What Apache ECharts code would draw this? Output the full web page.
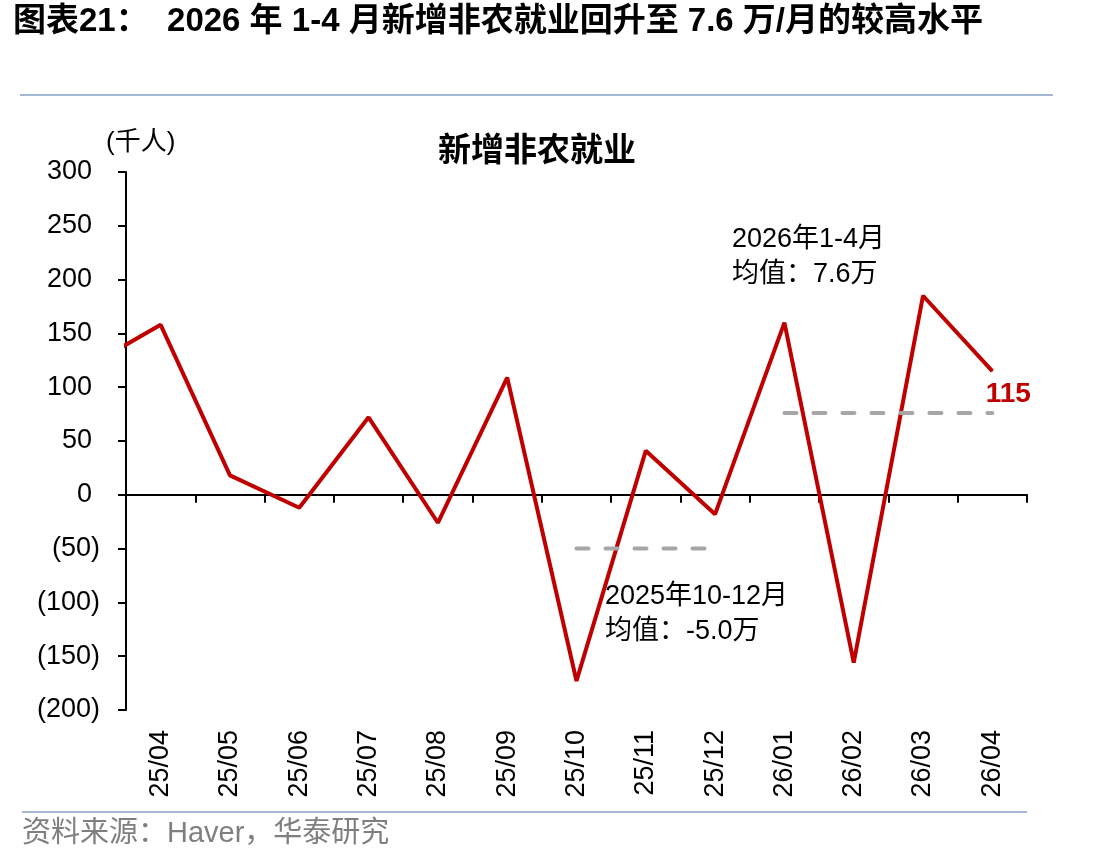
<!DOCTYPE html>
<html>
<head>
<meta charset="utf-8">
<script src="https://cdn.jsdelivr.net/npm/echarts@6/dist/echarts.min.js"></script>
<style>
    html, body { margin: 0; padding: 0; background: #fff; }
    #myChart { width: 1112px; height: 866px; }
</style>
</head>
<body>
<div id="myChart"></div>
<script>
    // 数据（千人）
    const months = ['25/04', '25/05', '25/06', '25/07', '25/08', '25/09', '25/10', '25/11', '25/12', '26/01', '26/02', '26/03', '26/04'];
    const prevMonthValue = 121;   // 25/03，只露出一截线段
    const payrolls = [158, 18, -12, 72, -26, 109, -173, 41, -18, 160, -156, 185, 115];
    const q4Months = ['25/10', '25/11', '25/12'];
    const q4Avg = -50;
    const ytdMonths = ['26/01', '26/02', '26/03', '26/04'];
    const ytdAvg = 76;
    const yTicks = [-200, 300, 50];  // min, max, interval

    const FONT = "'Liberation Sans', Arial, 'Noto Sans CJK SC', sans-serif";
    const RED = '#c00000';

    const lineData = [[-1, prevMonthValue]].concat(payrolls.map((v, i) => [i, v]));
    // 最后一个点显示数值
    lineData[lineData.length - 1] = {
        value: lineData[lineData.length - 1],
        symbol: 'circle', symbolSize: 1,
        label: {
            show: true, position: 'bottom', offset: [16, 4],
            color: RED, fontSize: 28, fontWeight: 'bold', fontFamily: FONT,
            formatter: p => p.value[1]
        }
    };
    const avgSeg = (list, v) => list.map(m => [months.indexOf(m), v]);

    const myChart = echarts.init(document.getElementById('myChart'));
    myChart.setOption({
        animation: false,
        grid: { left: 126, right: 85, top: 172, bottom: 156 },
        xAxis: [
            {
                type: 'category', data: months, boundaryGap: true,
                axisLine: { onZero: true, lineStyle: { color: '#000', width: 2 } },
                axisTick: { show: true, length: 8, lineStyle: { color: '#000', width: 2 } },
                axisLabel: { show: false }
            },
            {
                type: 'category', data: months, boundaryGap: true, position: 'bottom',
                axisLine: { show: false, onZero: false },
                axisTick: { show: false },
                axisLabel: { rotate: 90, margin: 20, fontSize: 27, color: '#000', fontFamily: FONT }
            },
            { type: 'value', min: -0.5, max: 12.5, show: false }
        ],
        yAxis: {
            type: 'value', min: yTicks[0], max: yTicks[1], interval: yTicks[2],
            axisLine: { show: true, onZero: false, lineStyle: { color: '#000', width: 2 } },
            axisTick: { show: true, length: 8, lineStyle: { color: '#000', width: 2 } },
            splitLine: { show: false },
            axisLabel: {
                margin: 26, fontSize: 27, color: '#000', fontFamily: FONT,
                formatter: v => v < 0 ? '(' + (-v) + ')' : v + '{s|}',
                rich: { s: { width: 8 } }
            }
        },
        series: [
            {
                type: 'line', xAxisIndex: 2, data: lineData, clip: true,
                symbol: 'none', z: 3,
                itemStyle: { color: RED },
                lineStyle: { color: RED, width: 4 }
            },
            {
                type: 'line', xAxisIndex: 2, data: avgSeg(q4Months, q4Avg),
                symbol: 'none', z: 4,
                lineStyle: { color: '#a6a6a6', width: 4, type: [12, 17], cap: 'round' }
            },
            {
                type: 'line', xAxisIndex: 2, data: avgSeg(ytdMonths, ytdAvg),
                symbol: 'none', z: 4,
                lineStyle: { color: '#a6a6a6', width: 4, type: [12, 17], cap: 'round' }
            }
        ],
        graphic: [
            { type: 'text', left: 13, top: 5,
              style: { text: '图表21：  2026 年 1-4 月新增非农就业回升至 7.6 万/月的较高水平', font: 'bold 33px ' + FONT, fill: '#000' } },
            { type: 'line', shape: { x1: 20, y1: 95, x2: 1053, y2: 95 }, style: { stroke: '#a3b8d2', lineWidth: 2 } },
            { type: 'text', style: { x: 537, y: 152, text: '新增非农就业', font: 'bold 33px ' + FONT, fill: '#000', align: 'center', verticalAlign: 'middle' } },
            { type: 'text', style: { x: 106, y: 143, text: '(千人)', font: '26px ' + FONT, fill: '#000', verticalAlign: 'middle' } },
            { type: 'text', style: { x: 732, y: 240, text: '2026年1-4月', font: '27px ' + FONT, fill: '#000', verticalAlign: 'middle' } },
            { type: 'text', style: { x: 732, y: 275, text: '均值：7.6万', font: '27px ' + FONT, fill: '#000', verticalAlign: 'middle' } },
            { type: 'text', style: { x: 605, y: 597, text: '2025年10-12月', font: '27px ' + FONT, fill: '#000', verticalAlign: 'middle' } },
            { type: 'text', style: { x: 605, y: 632, text: '均值：-5.0万', font: '27px ' + FONT, fill: '#000', verticalAlign: 'middle' } },
            { type: 'line', shape: { x1: 22, y1: 812, x2: 1027, y2: 812 }, style: { stroke: '#a3b8d2', lineWidth: 2 } },
            { type: 'text', style: { x: 22, y: 834, text: '资料来源：Haver，华泰研究', font: '29px ' + FONT, fill: '#7f7f7f', verticalAlign: 'middle' } }
        ]
    });
</script>
</body>
</html>
